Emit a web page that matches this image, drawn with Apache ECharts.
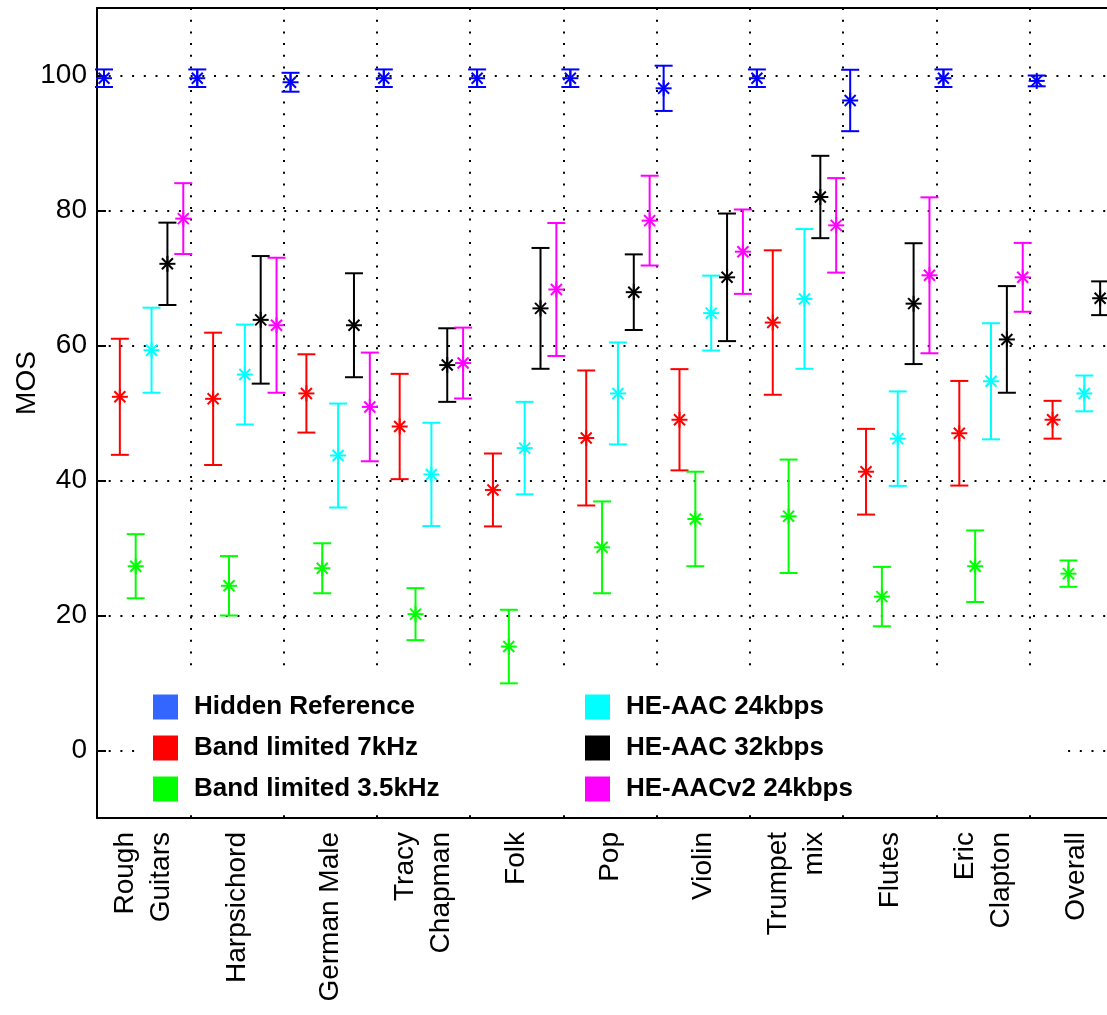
<!DOCTYPE html>
<html>
<head>
<meta charset="utf-8">
<title>MOS per item</title>
<script src="https://cdn.jsdelivr.net/npm/echarts@6/dist/echarts.min.js"></script>
<style>
  html, body { margin: 0; padding: 0; background: #fff; }
  #chart { width: 1107px; height: 1015px; }
</style>
</head>
<body>
<div id="chart"></div>
<script>
// items on the x axis
const categories = ['Rough\nGuitars', 'Harpsichord', 'German Male', 'Tracy\nChapman', 'Folk', 'Pop',
  'Violin', 'Trumpet\nmix', 'Flutes', 'Eric\nClapton', 'Overall'];
const yTicks = [0, 20, 40, 60, 80, 100];

// mean score and half width of the confidence interval, per condition
const hiddenRefMean = [99.6, 99.6, 99.0, 99.6, 99.6, 99.6, 98.1, 99.6, 96.3, 99.6, 99.2];
const hiddenRefCi   = [1.3, 1.3, 1.4, 1.3, 1.3, 1.3, 3.35, 1.3, 4.55, 1.3, 0.8];
const bl7Mean = [52.4, 52.1, 52.9, 48.0, 38.6, 46.3, 49.0, 63.4, 41.3, 47.0, 49.0];
const bl7Ci   = [8.6, 9.8, 5.8, 7.8, 5.4, 10.0, 7.5, 10.7, 6.35, 7.75, 2.8];
const bl35Mean = [27.3, 24.4, 27.0, 20.2, 15.4, 30.1, 34.3, 34.7, 22.8, 27.3, 26.2];
const bl35Ci   = [4.75, 4.4, 3.7, 3.85, 5.45, 6.8, 7.0, 8.4, 4.4, 5.3, 1.95];
const heaac24Mean = [59.3, 55.7, 43.7, 40.9, 44.8, 52.9, 64.8, 66.9, 46.2, 54.7, 52.9];
const heaac24Ci   = [6.3, 7.4, 7.7, 7.65, 6.85, 7.55, 5.55, 10.35, 7.0, 8.6, 2.65];
const heaac32Mean = [72.1, 63.8, 63.0, 57.1, 65.5, 67.9, 70.1, 82.0, 66.2, 60.9, 67.0];
const heaac32Ci   = [6.1, 9.45, 7.7, 5.45, 8.95, 5.6, 9.45, 6.1, 8.95, 7.9, 2.5];
const heaacv2Mean = [78.8, 63.0, 50.9, 57.4, 68.3, 78.5, 73.9, 77.8, 70.4, 70.1, 69.0];
const heaacv2Ci   = [5.25, 10.0, 8.05, 5.25, 9.85, 6.65, 6.25, 7.0, 11.55, 5.1, 2.75];

const FONT = '"Liberation Sans", Arial, Helvetica, sans-serif';

const groups = [
  { name: 'Hidden Reference', mean: hiddenRefMean, ci: hiddenRefCi, color: '#0000ff', legendColor: '#3366ff', offset: -0.425 },
  { name: 'Band limited 7kHz', mean: bl7Mean, ci: bl7Ci, color: '#ff0000', offset: -0.255 },
  { name: 'Band limited 3.5kHz', mean: bl35Mean, ci: bl35Ci, color: '#00ff00', offset: -0.085 },
  { name: 'HE-AAC 24kbps', mean: heaac24Mean, ci: heaac24Ci, color: '#00ffff', offset: 0.085 },
  { name: 'HE-AAC 32kbps', mean: heaac32Mean, ci: heaac32Ci, color: '#000000', offset: 0.255 },
  { name: 'HE-AACv2 24kbps', mean: heaacv2Mean, ci: heaacv2Ci, color: '#ff00ff', offset: 0.425 }
];

// error bar with caps and a '*' marker, shifted inside its category band
function errorBar(offset) {
  return function (params, api) {
    const idx = api.value(0), mean = api.value(1), half = api.value(2);
    const band = api.size([1, 0])[0];
    const c = api.coord([idx, mean]);
    const x = c[0] + offset * band, y = c[1];
    const yHi = api.coord([idx, mean + half])[1];
    const yLo = api.coord([idx, mean - half])[1];
    const cap = 9, r = 8, d = 5.5;
    const style = { stroke: api.visual('color'), lineWidth: 2, fill: null };
    const seg = (x1, y1, x2, y2) => ({ type: 'line', shape: { x1, y1, x2, y2 }, style });
    return {
      type: 'group',
      children: [
        seg(x, yHi, x, yLo),
        seg(x - cap, yHi, x + cap, yHi),
        seg(x - cap, yLo, x + cap, yLo),
        seg(x - r, y, x + r, y),
        seg(x, y - r, x, y + r),
        seg(x - d, y - d, x + d, y + d),
        seg(x - d, y + d, x + d, y - d)
      ]
    };
  };
}

const dotted = { color: '#000', width: 2, type: [2, 9.7] };
const axisBlack = { onZero: false, lineStyle: { color: '#000', width: 2 } };
const tickIn = { inside: true, length: 9, interval: 0, lineStyle: { color: '#000', width: 2 } };

const chart = echarts.init(document.getElementById('chart'), null, { renderer: 'canvas' });

chart.setOption({
  animation: false,
  backgroundColor: '#fff',
  grid: { left: 97, top: 8, width: 1026, height: 810, containLabel: false, outerBoundsMode: 'none' },
  xAxis: [{
    type: 'category',
    data: categories,
    position: 'bottom',
    boundaryGap: true,
    axisLine: axisBlack,
    axisTick: tickIn,
    axisLabel: {
      interval: 0, rotate: 90, margin: 14, color: '#000',
      fontSize: 28, fontFamily: FONT, lineHeight: 36
    },
    splitLine: { show: true, interval: 0, lineStyle: dotted }
  }, {
    type: 'category',
    data: categories,
    position: 'top',
    boundaryGap: true,
    axisLine: axisBlack,
    axisTick: tickIn,
    axisLabel: { show: false },
    splitLine: { show: false }
  }],
  yAxis: {
    type: 'value',
    min: -10,
    max: 110,
    splitNumber: 6,
    axisLine: { show: true, onZero: false, lineStyle: { color: '#000', width: 2 } },
    axisTick: { show: true, inside: true, length: 9, customValues: yTicks, lineStyle: { color: '#000', width: 2 } },
    axisLabel: { customValues: yTicks, margin: 10, color: '#000', fontSize: 28, fontFamily: FONT },
    splitLine: { show: true, lineStyle: dotted }
  },
  legend: [{
    left: 148, top: 689, orient: 'vertical',
    itemWidth: 25, itemHeight: 25, itemGap: 15, icon: 'rect',
    selectedMode: false,
    textStyle: { fontSize: 26, fontWeight: 'bold', fontFamily: FONT, color: '#000', padding: [0, 0, 0, 11] },
    data: groups.slice(0, 3).map(g => ({ name: g.name, itemStyle: { color: g.legendColor || g.color } }))
  }, {
    left: 580, top: 689, orient: 'vertical',
    itemWidth: 25, itemHeight: 25, itemGap: 15, icon: 'rect',
    selectedMode: false,
    textStyle: { fontSize: 26, fontWeight: 'bold', fontFamily: FONT, color: '#000', padding: [0, 0, 0, 11] },
    data: groups.slice(3).map(g => ({ name: g.name, itemStyle: { color: g.color } }))
  }],
  graphic: [{
    // white box behind the legend, hiding the grid there
    type: 'rect', z: 1, silent: true,
    shape: { x: 140, y: 666, width: 923, height: 140 },
    style: { fill: '#fff' }
  }, {
    type: 'text', z: 5, silent: true,
    x: 27, y: 383, rotation: Math.PI / 2,
    style: { text: 'MOS', fontSize: 28, fontFamily: FONT, fill: '#000', align: 'center', verticalAlign: 'middle' }
  }],
  series: groups.map(g => ({
    type: 'custom',
    name: g.name,
    z: 3,
    itemStyle: { color: g.color },
    encode: { x: 0, y: 1 },
    renderItem: errorBar(g.offset),
    data: g.mean.map((m, i) => [i, m, g.ci[i]])
  }))
});
</script>
</body>
</html>
